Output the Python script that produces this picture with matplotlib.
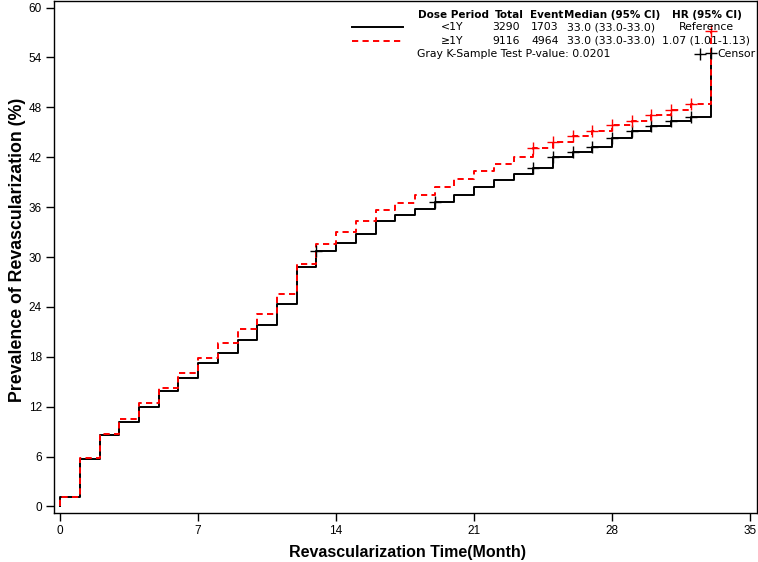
import matplotlib
matplotlib.use("Agg")
import matplotlib.pyplot as plt
import numpy as np
from matplotlib import font_manager

# ---------------- data ----------------
months = list(range(0, 33))  # start of each interval
lt1y_values = [1.1, 5.7, 8.6, 10.2, 12.0, 13.9, 15.5, 17.2, 18.5, 20.0, 21.8, 24.3,
               28.8, 30.7, 31.7, 32.8, 34.3, 35.0, 35.8, 36.6, 37.5, 38.4, 39.3, 40.0,
               40.7, 42.0, 42.6, 43.2, 44.3, 45.2, 45.8, 46.3, 46.8]
lt1y_final = 54.5
ge1y_values = [1.1, 5.8, 8.7, 10.5, 12.4, 14.3, 16.0, 17.9, 19.7, 21.3, 23.2, 25.5,
               29.1, 31.6, 33.0, 34.3, 35.6, 36.5, 37.4, 38.4, 39.4, 40.3, 41.2, 42.0,
               43.1, 43.8, 44.5, 45.2, 45.9, 46.4, 47.1, 47.7, 48.4]
ge1y_final = 57.2
end_month = 33
lt1y_censor = [13, 19, 24, 25, 26, 27, 28, 29, 30, 31, 32, 33]
ge1y_censor = [24, 25, 26, 27, 28, 29, 30, 31, 32, 33]

x_ticks = [0, 7, 14, 21, 28, 35]
y_ticks = [0, 6, 12, 18, 24, 30, 36, 42, 48, 54, 60]

groups = ["<1Y", "\u22651Y"]
totals = ["3290", "9116"]
events = ["1703", "4964"]
medians = ["33.0 (33.0-33.0)", "33.0 (33.0-33.0)"]
hrs = ["Reference", "1.07 (1.01-1.13)"]
pvalue_text = "Gray K-Sample Test P-value: 0.0201"

# ---------------- fonts ----------------
avail = {f.name for f in font_manager.fontManager.ttflist}
narrow = ['Liberation Sans Narrow'] if 'Liberation Sans Narrow' in avail else ['Liberation Sans']

W, H = 758, 562
L, R, T, B = 54.3, 756.7, 0.5, 512.7
fig = plt.figure(figsize=(W / 100, H / 100), dpi=100)
ax = fig.add_axes([L / W, (H - B) / H, (R - L) / W, (B - T) / H])


def curve(vals, final):
    t = [0] + months + [end_month]
    y = [0] + vals + [final]
    return t, y


def value_at(vals, final, t):
    if t >= end_month:
        return final
    return vals[int(t)]


t1, y1 = curve(lt1y_values, lt1y_final)
t2, y2 = curve(ge1y_values, ge1y_final)

ax.plot(t1, y1, drawstyle='steps-post', color='black', lw=1.4, zorder=3)
ax.plot(t2, y2, drawstyle='steps-post', color='#ff0000', lw=1.4, ls=(0, (3.2, 2.2)), zorder=4)

ax.plot(lt1y_censor, [value_at(lt1y_values, lt1y_final, t) for t in lt1y_censor],
        ls='none', marker='+', ms=8, mew=1.0, color='black', zorder=5)
ax.plot(ge1y_censor, [value_at(ge1y_values, ge1y_final, t) for t in ge1y_censor],
        ls='none', marker='+', ms=8, mew=1.0, color='#ff0000', zorder=6)

ax.set_xlim(-0.30, 35.34)
ax.set_ylim(-0.75, 60.85)
ax.set_xticks(x_ticks)
ax.set_yticks(y_ticks)
ax.set_xticklabels([str(v) for v in x_ticks], family=narrow, fontsize=8.5)
ax.set_yticklabels([str(v) for v in y_ticks], family=narrow, fontsize=8.5)
ax.tick_params(direction='out', length=6, width=1.0, color='black', pad=3)
for s in ax.spines.values():
    s.set_linewidth(1.0)

ax.set_xlabel("Revascularization Time(Month)", family=narrow, fontsize=11.5,
              fontweight='bold', va='center')
ax.set_ylabel("Prevalence of Revascularization (%)", family=narrow, fontsize=12.8,
              fontweight='bold', va='center')
ax.xaxis.set_label_coords((407 - L) / (R - L), -(552 - B) / (B - T))
ax.yaxis.set_label_coords((18 - L) / (R - L), (B - 250) / (B - T))

# ---------------- legend table ----------------
def px(x, y):
    return x / W, 1 - y / H

hdr = dict(fontsize=7.5, fontweight='bold', family='DejaVu Sans', va='center')
txt = dict(fontsize=7.8, family='DejaVu Sans', va='center')

rows_y = [14.5, 27, 40.5, 54]
fig.text(*px(453, rows_y[0]), "Dose Period", ha='center', **hdr)
fig.text(*px(509, rows_y[0]), "Total", ha='center', **hdr)
fig.text(*px(546.5, rows_y[0]), "Event", ha='center', **hdr)
fig.text(*px(612, rows_y[0]), "Median (95% CI)", ha='center', **hdr)
fig.text(*px(706.5, rows_y[0]), "HR (95% CI)", ha='center', **hdr)

line_styles = [dict(color='black', lw=1.4), dict(color='#ff0000', lw=1.4, ls=(0, (3.2, 2.2)))]
for i in range(2):
    yy = rows_y[i + 1]
    fig.add_artist(plt.Line2D([352 / W, 403 / W], [1 - yy / H, 1 - yy / H],
                              transform=fig.transFigure, **line_styles[i]))
    fig.text(*px(452, yy), groups[i], ha='center', **txt)
    fig.text(*px(506, yy), totals[i], ha='center', **txt)
    fig.text(*px(545, yy), events[i], ha='center', **txt)
    fig.text(*px(611, yy), medians[i], ha='center', **txt)
    fig.text(*px(706.5, yy), hrs[i], ha='center', **txt)

fig.text(*px(417, rows_y[3]), pvalue_text, ha='left', **txt)
fig.add_artist(plt.Line2D([700 / W], [1 - rows_y[3] / H], transform=fig.transFigure,
                          marker='+', ms=8, mew=1.0, color='black', ls='none'))
fig.text(*px(717, rows_y[3]), "Censor", ha='left', **txt)

fig.savefig("out.png", dpi=100)
